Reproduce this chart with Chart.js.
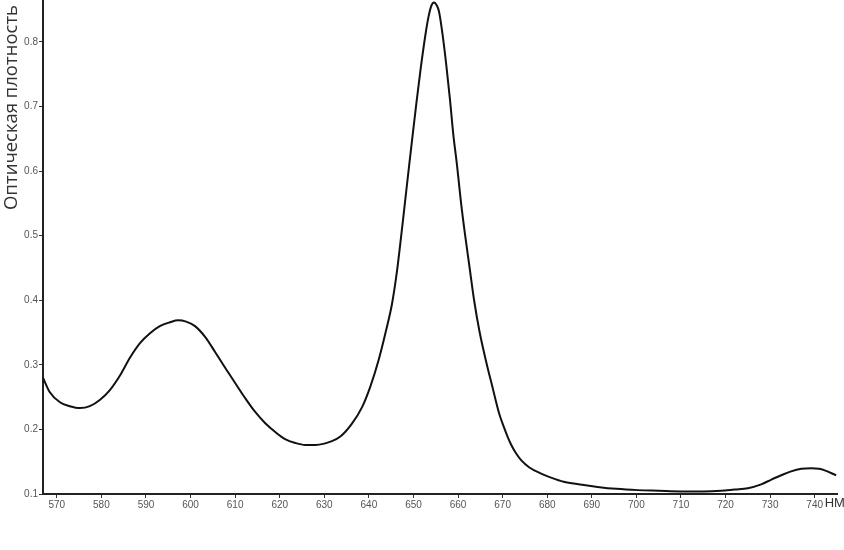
<!DOCTYPE html>
<html>
<head>
<meta charset="utf-8">
<script src="https://cdn.jsdelivr.net/npm/chart.js@4.4.1/dist/chart.umd.min.js"></script>
<style>
  html, body { margin: 0; padding: 0; background: #fff; }
  #spettro { display: block; }
</style>
</head>
<body>
<canvas id="spettro" width="844" height="550"></canvas>
<script>
// lunghezze d'onda (нм) e densità ottica
const lunghezze = [
    566.9, 568.4, 570.7, 572.9, 575.2, 577.4, 579.7, 581.9, 584.2, 586.4,
    588.7, 590.9, 593.1, 595.4, 597.2, 599.0, 601.0, 603.3, 605.5, 607.8,
    610.0, 612.2, 614.5, 616.7, 619.0, 621.2, 623.5, 625.7, 628.0, 630.0,
    631.4, 633.6, 636.2, 638.5, 640.3, 642.2, 643.7, 645.2, 646.3, 647.2,
    648.1, 649.0, 649.8, 650.7, 651.6, 652.7, 653.4, 654.0, 654.6, 655.2,
    655.7, 656.5, 657.4, 658.2, 658.9, 659.8, 660.6, 661.5, 662.5, 663.6,
    664.8, 666.2, 667.7, 669.2, 670.2, 671.1, 672.0, 673.0, 674.2, 676.0,
    678.5, 681.0, 683.7, 687.0, 691.3, 695.5, 700.3, 705.0, 710.0, 715.0,
    719.0, 722.0, 725.0, 728.0, 730.2, 732.5, 734.7, 737.0, 739.2, 741.0,
    742.1, 744.8
];
const densita = [
    0.280, 0.258, 0.242, 0.236, 0.233, 0.236, 0.246, 0.261, 0.284, 0.311,
    0.334, 0.349, 0.360, 0.366, 0.369, 0.367, 0.360, 0.343, 0.320, 0.295,
    0.272, 0.249, 0.227, 0.210, 0.196, 0.185, 0.179, 0.176, 0.176, 0.178,
    0.181, 0.189, 0.209, 0.235, 0.266, 0.308, 0.349, 0.395, 0.445, 0.497,
    0.552, 0.607, 0.655, 0.708, 0.758, 0.812, 0.840, 0.856, 0.861, 0.857,
    0.848, 0.813, 0.762, 0.710, 0.659, 0.607, 0.555, 0.505, 0.455, 0.400,
    0.352, 0.308, 0.266, 0.225, 0.205, 0.189, 0.175, 0.163, 0.152, 0.141,
    0.132, 0.125, 0.119, 0.115, 0.111, 0.108, 0.106, 0.105, 0.104, 0.104,
    0.105, 0.107, 0.109, 0.115, 0.122, 0.129, 0.135, 0.139, 0.140, 0.139,
    0.137, 0.129
];
const tickX = [570, 580, 590, 600, 610, 620, 630, 640, 650, 660, 670, 680, 690, 700, 710, 720, 730, 740];
const tickY = [0.1, 0.2, 0.3, 0.4, 0.5, 0.6, 0.7, 0.8];

const titoloY = 'Оптическая плотность';
const unitaX = 'НМ';

// testi fuori dagli assi: titolo verticale in alto a sinistra e "НМ"
const testiPlugin = {
    id: 'testiAssi',
    afterDraw(chart) {
        const { ctx, scales } = chart;
        ctx.save();
        ctx.font = '13px "Liberation Sans", sans-serif';
        ctx.fillStyle = '#333';
        ctx.textAlign = 'left';
        ctx.textBaseline = 'middle';
        ctx.fillText(unitaX, scales.x.getPixelForValue(740) + 10, scales.x.top + 9);

        ctx.translate(12, chart.chartArea.top + 5);
        ctx.rotate(-Math.PI / 2);
        ctx.font = '18.5px "Open Sans", sans-serif';
        ctx.textAlign = 'right';
        ctx.fillText(titoloY, 0, 0);
        ctx.restore();
    }
};

const ctx = document.getElementById('spettro');
const grafico = new Chart(ctx, {
    type: 'line',
    data: {
        datasets: [{
            data: lunghezze.map((x, i) => ({ x: x, y: densita[i] })),
            borderColor: '#111',
            borderWidth: 2,
            pointRadius: 0,
            cubicInterpolationMode: 'monotone',
            fill: false
        }]
    },
    options: {
        responsive: false,
        animation: false,
        layout: { padding: { top: 0, right: 7, left: 0, bottom: 0 } },
        plugins: {
            legend: { display: false },
            tooltip: { enabled: false }
        },
        scales: {
            x: {
                type: 'linear',
                min: 566.9,
                max: 745,
                afterBuildTicks: s => { s.ticks = tickX.map(v => ({ value: v })); },
                afterFit: s => { s.height = 56; },
                grid: { drawOnChartArea: false, tickLength: 4, color: '#333', tickWidth: 1 },
                border: { color: '#222', width: 2 },
                ticks: {
                    padding: 1,
                    color: '#555',
                    font: { family: '"Liberation Sans", sans-serif', size: 10 }
                }
            },
            y: {
                min: 0.1,
                max: 0.865,
                afterBuildTicks: s => { s.ticks = tickY.map(v => ({ value: v })); },
                afterFit: s => { s.width = 43; s.paddingTop = 0; s.paddingBottom = 0; },
                grid: { drawOnChartArea: false, tickLength: 4, color: '#333', tickWidth: 1 },
                border: { color: '#222', width: 2 },
                ticks: {
                    padding: 1,
                    color: '#555',
                    font: { family: '"Liberation Sans", sans-serif', size: 10 },
                    callback: v => v.toFixed(1)
                }
            }
        }
    },
    plugins: [testiPlugin]
});
</script>
</body>
</html>
